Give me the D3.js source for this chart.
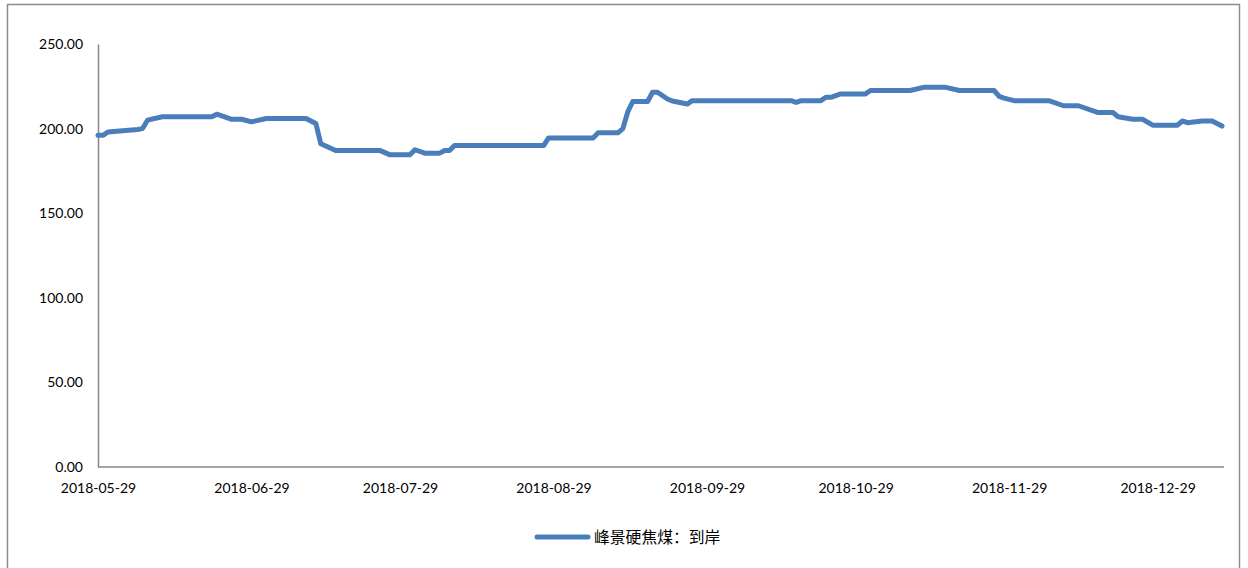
<!DOCTYPE html>
<html>
<head>
<meta charset="utf-8">
<title>峰景硬焦煤</title>
<style>
  body { margin: 0; background: #fff; }
  text { font-family: Lato, "Noto Sans", sans-serif; fill: #000; }
</style>
</head>
<body>
<script src="https://d3js.org/d3.v7.min.js"></script>
<svg width="1248" height="568" id="mainsvg"></svg>
<script>
// series: 峰景硬焦煤：到岸
const dates = [
  "2018-05-29","2018-05-30","2018-05-31","2018-06-06","2018-06-07","2018-06-08",
  "2018-06-11","2018-06-21","2018-06-22","2018-06-25","2018-06-27","2018-06-29",
  "2018-07-02","2018-07-10","2018-07-12","2018-07-13","2018-07-16","2018-07-25",
  "2018-07-27","2018-07-31","2018-08-01","2018-08-03","2018-08-06","2018-08-07",
  "2018-08-08","2018-08-09","2018-08-27","2018-08-28","2018-09-06","2018-09-07",
  "2018-09-11","2018-09-12","2018-09-13","2018-09-14","2018-09-17","2018-09-18",
  "2018-09-19","2018-09-21","2018-09-22","2018-09-25","2018-09-26","2018-10-16",
  "2018-10-17","2018-10-18","2018-10-22","2018-10-23","2018-10-24","2018-10-26",
  "2018-10-31","2018-11-01","2018-11-09","2018-11-12","2018-11-16","2018-11-19",
  "2018-11-26","2018-11-27","2018-11-28","2018-11-30","2018-12-07","2018-12-10",
  "2018-12-13","2018-12-17","2018-12-20","2018-12-21","2018-12-24","2018-12-26",
  "2018-12-28","2019-01-02","2019-01-03","2019-01-04","2019-01-07","2019-01-09",
  "2019-01-10","2019-01-11"
];
const values = [
  196, 196, 198, 199.5, 200, 205,
  207, 207, 208.5, 205.5, 205.5, 204,
  206, 206, 203, 191, 187, 187,
  184.5, 184.5, 187.5, 185.5, 185.5, 187,
  187, 190, 190, 194.5, 194.5, 197.5,
  197.5, 200, 210, 216, 216, 221.5,
  221.5, 217.5, 216.3, 214.5, 216.5, 216.5,
  215.5, 216.5, 216.5, 218.5, 218.5, 220.5,
  220.5, 222.5, 222.5, 224.5, 224.5, 222.5,
  222.5, 219, 218, 216.5, 216.5, 213.5,
  213.5, 209.5, 209.5, 207, 205.5, 205.5,
  202, 202, 204.5, 203.5, 204.5, 204.5,
  203, 201.5
];
const tickDates = ["2018-05-29","2018-06-29","2018-07-29","2018-08-29",
                   "2018-09-29","2018-10-29","2018-11-29","2018-12-29"];
const yTicks = [0, 50, 100, 150, 200, 250];
const seriesName = "峰景硬焦煤：到岸";

const parse = d3.utcParse("%Y-%m-%d");
const data = dates.map((d, i) => ({ date: parse(d), value: values[i] }));

const svg = d3.select('#mainsvg');

// outer chart frame
svg.append("rect")
  .attr("x", 7.5).attr("y", 4.5)
  .attr("width", 1232).attr("height", 580)
  .attr("fill", "#fff")
  .attr("stroke", "#8c8c8c")
  .attr("stroke-width", 1.5);

const plotL = 98, plotR = 1222, plotT = 44, plotB = 467;

const x = d3.scaleUtc()
  .domain([parse("2018-05-29"), parse("2019-01-11")])
  .range([plotL, plotR]);
const y = d3.scaleLinear().domain([0, 250]).range([plotB, plotT]);

// y axis
const yAxis = svg.append("g")
  .attr("transform", `translate(${plotL},0)`)
  .call(d3.axisLeft(y).tickValues(yTicks).tickFormat(d3.format(".2f")).tickSize(0).tickPadding(15));
yAxis.select(".domain").attr("stroke", "#868686").attr("stroke-width", 1.5);
yAxis.selectAll("text").style("font-size", "14px").attr("fill", "#000");

// x axis
const xAxis = svg.append("g")
  .attr("transform", `translate(0,${plotB})`)
  .call(d3.axisBottom(x).tickValues(tickDates.map(parse))
    .tickFormat(d3.utcFormat("%Y-%m-%d")).tickSize(0).tickPadding(16));
xAxis.select(".domain").remove();
xAxis.selectAll("text").style("font-size", "14px").attr("fill", "#000");
svg.append("line")
  .attr("x1", plotL).attr("x2", 1224)
  .attr("y1", plotB).attr("y2", plotB)
  .attr("stroke", "#868686").attr("stroke-width", 1.5);

// line
const line = d3.line().x(d => x(d.date)).y(d => y(d.value));
svg.append("path")
  .datum(data)
  .attr("d", line)
  .attr("fill", "none")
  .attr("stroke", "#4a7ebb")
  .attr("stroke-width", 5)
  .attr("stroke-linejoin", "round")
  .attr("stroke-linecap", "round");

// legend
const lg = svg.append("g").attr("transform", "translate(537,537)");
lg.append("line").attr("x1", 0).attr("x2", 51).attr("y1", 0).attr("y2", 0)
  .attr("stroke", "#4a7ebb").attr("stroke-width", 5).attr("stroke-linecap", "round");
lg.append("text").attr("x", 57).attr("y", 0).attr("dy", "0.35em")
  .style("font-family", "'Noto Sans CJK SC', sans-serif")
  .style("font-size", "15.8px")
  .text(seriesName);
</script>
</body>
</html>
